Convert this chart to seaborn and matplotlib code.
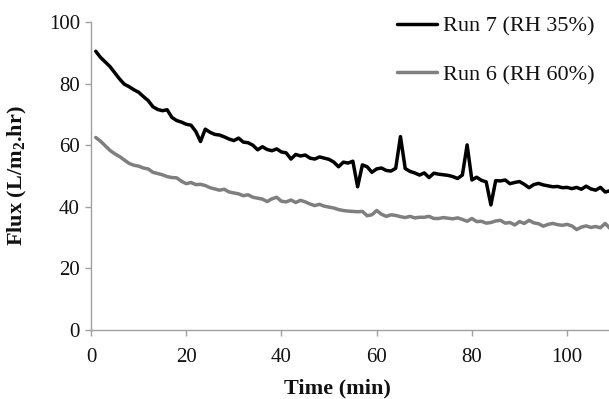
import numpy as np
import pandas as pd
import matplotlib
matplotlib.use("Agg")
import matplotlib.pyplot as plt
import seaborn as sns

# time axis, one reading per minute
time_min = list(range(1, 110))

# Run 7 (RH 35%) flux, L/m2.hr
run7_flux = [
    90.5, 88.5, 87.0, 85.5, 83.5, 81.5, 79.8, 79.0, 78.0, 77.2,
    75.8, 74.5, 72.5, 71.6, 71.2, 71.5, 69.0, 68.0, 67.5, 66.8,
    66.5, 64.5, 61.2, 65.2, 64.2, 63.5, 63.3, 62.7, 62.0, 61.5,
    62.3, 61.0, 60.8, 60.0, 58.5, 59.5, 58.6, 58.2, 58.8, 57.8,
    57.5, 55.5, 57.0, 56.5, 56.8, 55.8, 55.5, 56.2, 55.8, 55.4,
    54.5, 53.0, 54.5, 54.2, 54.8, 46.5, 53.6, 53.0, 51.2, 52.3,
    52.6, 51.8, 51.6, 52.5, 62.8, 52.4, 51.5, 51.0, 50.3, 51.0,
    49.5, 50.9, 50.6, 50.4, 50.2, 49.8, 49.2, 50.3, 60.1, 48.7,
    49.6, 48.6, 48.1, 40.6, 48.5, 48.4, 48.7, 47.5, 47.9, 48.2,
    47.3, 46.2, 47.2, 47.6, 47.1, 46.8, 46.5, 46.6, 46.2, 46.3,
    45.9, 46.3, 45.7, 46.7, 45.8, 45.4, 46.3, 44.8, 45.2,
]

# Run 6 (RH 60%) flux, L/m2.hr
run6_flux = [
    62.5, 61.3, 59.8, 58.3, 57.2, 56.3, 55.2, 54.1, 53.5, 53.2,
    52.6, 52.3, 51.2, 50.8, 50.4, 49.8, 49.5, 49.4, 48.3, 47.5,
    47.9, 47.2, 47.3, 46.9, 46.2, 45.8, 45.4, 45.7, 44.8, 44.5,
    44.2, 43.6, 43.9, 43.1, 42.8, 42.5, 41.7, 42.6, 43.1, 41.8,
    41.6, 42.2, 41.4, 42.1, 41.6, 40.9, 40.4, 40.8, 40.2, 39.9,
    39.6, 39.1, 38.8, 38.6, 38.5, 38.4, 38.5, 37.1, 37.4, 38.8,
    37.6, 36.9, 37.4, 37.2, 36.8, 36.5, 36.9, 36.4, 36.6, 36.6,
    36.9, 36.2, 36.2, 36.5, 36.3, 36.1, 36.4, 35.9, 35.3, 36.2,
    35.2, 35.3, 34.7, 34.9, 35.4, 35.6, 34.7, 34.9, 34.1, 35.2,
    34.6, 35.6, 34.8, 34.5, 33.7, 34.3, 34.6, 34.2, 34.0, 34.3,
    33.8, 32.6, 33.4, 33.8, 33.3, 33.6, 33.2, 34.6, 33.0,
]

series_labels = ["Run 7 (RH 35%)", "Run 6 (RH 60%)"]
series_colors = ["#000000", "#7f7f7f"]
y_ticks = [0, 20, 40, 60, 80, 100]
x_ticks = [0, 20, 40, 60, 80, 100]

df = pd.DataFrame({
    "Time": time_min * 2,
    "Flux": run7_flux + run6_flux,
    "Run": [series_labels[0]] * len(time_min) + [series_labels[1]] * len(time_min),
})

sns.set_theme(style="white")
plt.rcParams["font.family"] = ["Liberation Serif", "DejaVu Serif"]
plt.rcParams["mathtext.fontset"] = "custom"
plt.rcParams["mathtext.rm"] = "Liberation Serif"
plt.rcParams["mathtext.bf"] = "Liberation Serif:bold"

fig = plt.figure(figsize=(6.09, 3.99), dpi=100)
ax = fig.add_axes([91 / 609, 1 - 330 / 399, 1 - 91 / 609, (330 - 22) / 399])

sns.lineplot(data=df, x="Time", y="Flux", hue="Run", palette=series_colors,
             hue_order=series_labels, linewidth=2.5, ax=ax)

ax.set_xlim(0, 108.8)
ax.set_ylim(0, 100)
ax.set_xticks(x_ticks)
ax.set_yticks(y_ticks)

for side in ["top", "right"]:
    ax.spines[side].set_visible(False)
for side in ["left", "bottom"]:
    ax.spines[side].set_color("#a0a0a0")
    ax.spines[side].set_linewidth(1.0)

ax.tick_params(axis="both", which="major", direction="out", length=4,
               width=1.0, color="#a0a0a0", labelsize=15, labelcolor="#111111",
               left=True, bottom=True, pad=4)
ax.tick_params(axis="x", pad=9)

ax.set_xlabel("Time (min)", fontsize=16, fontweight="bold", color="#111111")
ax.set_ylabel(r"Flux (L/m$_\mathbf{2}$.hr)", fontsize=16, fontweight="bold",
              color="#111111")
ax.xaxis.set_label_coords(0.475, -0.158)
ax.yaxis.set_label_coords(-0.12, 0.5)

leg = ax.legend(loc="upper left", bbox_to_anchor=(0.573, 1.047), frameon=False,
                fontsize=16, handlelength=1.8, handletextpad=0.27,
                labelspacing=1.24, borderaxespad=0)
for line in leg.get_lines():
    line.set_linewidth(2.5)
for txt in leg.get_texts():
    txt.set_color("#111111")

fig.savefig("out.png", dpi=100)
plt.close(fig)
